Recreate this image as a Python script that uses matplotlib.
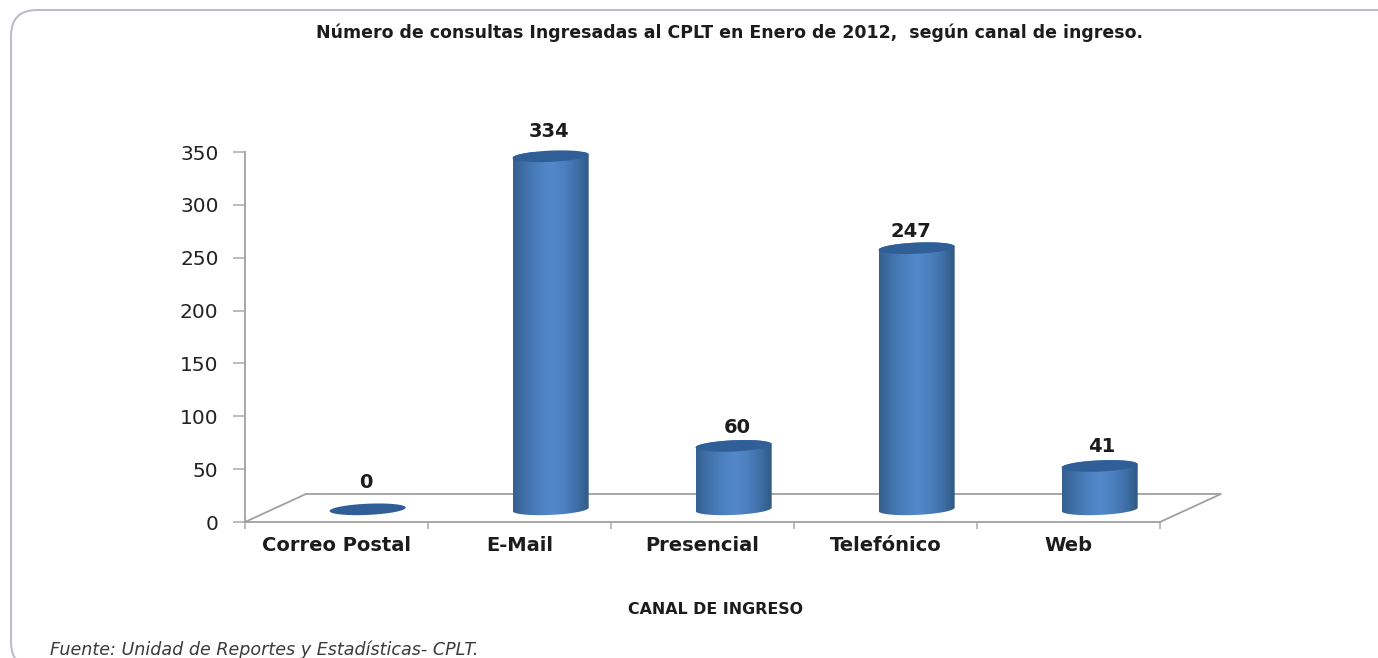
import numpy as np
import matplotlib
matplotlib.use("Agg")
import matplotlib.pyplot as plt
from matplotlib.patches import FancyBboxPatch, Polygon
from matplotlib.colors import LinearSegmentedColormap

categories = ["Correo Postal", "E-Mail", "Presencial", "Telefónico", "Web"]
values = [0, 334, 60, 247, 41]
yticks = [0, 50, 100, 150, 200, 250, 300, 350]
title = "Número de consultas Ingresadas al CPLT en Enero de 2012,  según canal de ingreso."
xlabel = "CANAL DE INGRESO"
source = "Fuente: Unidad de Reportes y Estadísticas- CPLT."
label_gaps = [37, 35, 29, 28, 30]
label_shifts = [-0.01, -0.01, 0.02, -0.03, 0.01]

W, H = 1378, 658
fig = plt.figure(figsize=(W / 100, H / 100), dpi=100, facecolor="white")

# frame
bg = fig.add_axes([0, 0, 1, 1], zorder=0)
bg.set_xlim(0, W); bg.set_ylim(H, 0); bg.axis("off")
bg.add_patch(FancyBboxPatch((11, 10), W + 60, 658, boxstyle="round,pad=0,rounding_size=26",
                            fc="white", ec="#bdbdca", lw=1.5, clip_on=True))

# plot axes: x -0.5..4.5 spans 245..1160 px, y 0..350 spans 522..152 px
ax = fig.add_axes([245 / W, 1 - 522 / H, (1160 - 245) / W, (522 - 152) / H], zorder=1)
ax.patch.set_alpha(0)
ax.set_xlim(-0.5, 4.5); ax.set_ylim(0, 350)
for s in ["top", "right"]:
    ax.spines[s].set_visible(False)
for s in ["left", "bottom"]:
    ax.spines[s].set_color("#a0a0a0"); ax.spines[s].set_linewidth(1.3)
ax.set_yticks(yticks)
ax.set_xticks(np.arange(-0.5, 5, 1), labels=[""] * 6)
ax.tick_params(axis="y", length=9, width=1.2, color="#b0b0b0", labelsize=14.5, labelcolor="#222222", pad=10)
ax.tick_params(axis="x", length=5, width=1.2, color="#b0b0b0")
for i, c in enumerate(categories):
    ax.text(i, -22, c, ha="center", va="center", fontsize=14, fontweight="bold", color="#1c1c1c",
            clip_on=False)

# 3D floor
dx, dy = 0.333, 26.5
ax.plot([-0.5, -0.5 + dx, 4.5 + dx, 4.5], [0, dy, dy, 0], color="#a0a0a0", lw=1.3, clip_on=False, zorder=2)

cmap = LinearSegmentedColormap.from_list("cyl", ["#35608f", "#4172ab", "#4b80bf", "#5389cb", "#4b80bf",
                                                 "#3f6fa8", "#2f5880"])
shift, a = 0.17, 0.208
base, b, tilt = 12.0, 5.3, 1.6
t = np.linspace(0, 2 * np.pi, 121)

def ell(cx, cy):
    return np.c_[cx + a * np.cos(t), cy + b * np.sin(t) + tilt * np.cos(t)]

for i, v in enumerate(values):
    cx = i + shift
    top_y = v + base
    if v > 0:
        lower = np.linspace(np.pi, 2 * np.pi, 60)
        upper = np.linspace(0, np.pi, 60)
        xs = np.r_[cx + a * np.cos(lower), cx + a * np.cos(upper)]
        ys = np.r_[base + b * np.sin(lower) + tilt * np.cos(lower),
                   top_y + b * np.sin(upper) + tilt * np.cos(upper)]
        body = Polygon(np.c_[xs, ys], closed=True, fc="none", ec="none", clip_on=False)
        ax.add_patch(body)
        im = ax.imshow(np.linspace(0, 1, 128)[None, :], cmap=cmap, aspect="auto",
                       extent=[cx - a, cx + a, base - b - 2, top_y + b + 2], zorder=3,
                       interpolation="bilinear")
        im.set_clip_path(body)
    ax.add_patch(Polygon(ell(cx, top_y), closed=True, fc="#2f5f96", ec="none", zorder=4, clip_on=False))
    ax.text(cx + label_shifts[i], v + label_gaps[i], str(v), ha="center", va="center", fontsize=14,
            fontweight="bold", color="#1c1c1c", zorder=5, clip_on=False)

ax.set_xlim(-0.5, 4.5); ax.set_ylim(0, 350)

fig.text(730 / W, 1 - 33 / H, title, ha="center", va="center", fontsize=12.5, fontweight="bold",
         color="#1c1c1c")
fig.text(715 / W, 1 - 609 / H, xlabel, ha="center", va="center", fontsize=11.4, fontweight="bold",
         color="#1c1c1c")
fig.text(50 / W, 1 - 650 / H, source, ha="left", va="center", fontsize=12.6, style="italic",
         color="#3a3a3a")

fig.savefig("out.png", dpi=100)
